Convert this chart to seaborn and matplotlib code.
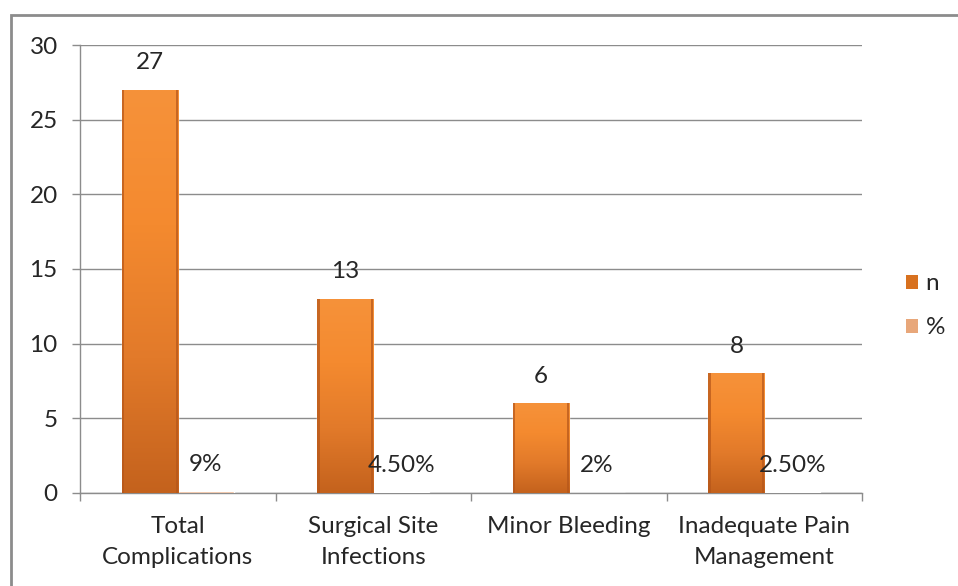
#!/usr/bin/env python3

# Complications bar chart (n and %) in the old Excel look.
import matplotlib

matplotlib.use("Agg")
import matplotlib.pyplot as plt
import numpy as np
import pandas
import seaborn as sns
from matplotlib.patches import Rectangle

categories = [
    "Total\nComplications",
    "Surgical Site\nInfections",
    "Minor Bleeding",
    "Inadequate Pain\nManagement",
]
n_values = [27, 13, 6, 8]
pct_values = [0.09, 0.045, 0.02, 0.025]
pct_labels = ["9%", "4.50%", "2%", "2.50%"]
series = ["n", "%"]
yticks = [0, 5, 10, 15, 20, 25, 30]

sns.set_style("white")
plt.rcParams["font.family"] = ["Lato", "DejaVu Sans"]
FONT = 17.5
GRAY = "#8c8c8c"
TEXT = "#262626"


def bevel_fill(ax, patch, cmap):
    """
    Paint a vertical gradient inside a bar patch, plus dark side edges.
    """
    x0, y0 = patch.get_x(), patch.get_y()
    w, h = patch.get_width(), patch.get_height()
    if h <= 0:
        return
    grad = np.linspace(0, 1, 256).reshape(-1, 1)
    im = ax.imshow(
        grad,
        extent=[x0, x0 + w, y0, y0 + h],
        aspect="auto",
        cmap=cmap,
        origin="lower",
        zorder=patch.get_zorder() + 0.1,
    )
    im.set_clip_path(patch)
    edge = w * 0.04
    for xs in (x0, x0 + w - edge):
        ax.add_patch(
            Rectangle(
                (xs, y0), edge, h, facecolor="#b5561a", edgecolor="none",
                alpha=0.7, zorder=patch.get_zorder() + 0.2,
            )
        )


def main():
    df = pandas.DataFrame(
        {
            "category": categories * 2,
            "series": ["n"] * len(categories) + ["%"] * len(categories),
            "value": n_values + pct_values,
        }
    )

    fig = plt.figure(figsize=(9.58, 5.86), dpi=100)
    ax = fig.add_axes([0.0835, 0.159, 0.8165, 0.764])

    palette = {"n": "#f08a2c", "%": "#e8a77a"}
    sns.barplot(
        data=df, x="category", y="value", hue="series", hue_order=series,
        palette=palette, width=0.573, gap=0, ax=ax, legend=False,
        saturation=1, zorder=3,
    )

    cmap = matplotlib.colors.LinearSegmentedColormap.from_list(
        "bar", ["#c4621d", "#e27a2a", "#f48a2f", "#f6923a"]
    )
    n_patches = ax.patches[: len(categories)]
    pct_patches = ax.patches[len(categories) : 2 * len(categories)]
    for p in n_patches:
        bevel_fill(ax, p, cmap)

    # data labels above bars
    for p, v in zip(n_patches, n_values):
        ax.annotate(
            str(v), (p.get_x() + p.get_width() / 2, p.get_height()),
            xytext=(0, 19.5), textcoords="offset points", ha="center", va="center",
            fontsize=FONT, color=TEXT, zorder=5,
        )
    for p, lab in zip(pct_patches, pct_labels):
        ax.annotate(
            lab, (p.get_x() + p.get_width() / 2, p.get_height()),
            xytext=(0, 19.5), textcoords="offset points", ha="center", va="center",
            fontsize=FONT, color=TEXT, zorder=5,
        )

    ax.set_ylim(0, 30)
    ax.set_xlim(-0.5, len(categories) - 0.5)
    ax.set_yticks(yticks)
    ax.set_yticklabels([str(t) for t in yticks], fontsize=FONT, color=TEXT)
    ax.yaxis.grid(True, color=GRAY, linewidth=1, zorder=0)
    ax.set_axisbelow(True)
    ax.set_xlabel("")
    ax.set_ylabel("")
    ax.set_xticks(range(len(categories)))
    ax.set_xticklabels(categories, fontsize=FONT, color=TEXT, linespacing=1.55)
    ax.tick_params(axis="x", length=0, pad=17)
    ax.tick_params(axis="y", length=6, color=GRAY, width=1, pad=10, left=True)

    # category boundary ticks below x axis
    ax.set_xticks(np.arange(-0.5, len(categories)), minor=True)
    ax.tick_params(axis="x", which="minor", length=6, color=GRAY, width=1, bottom=True)

    for side in ("top", "right"):
        ax.spines[side].set_visible(False)
    for side in ("left", "bottom"):
        ax.spines[side].set_color(GRAY)
        ax.spines[side].set_linewidth(1)

    # legend
    handles = [
        Rectangle((0, 0), 1, 1, facecolor="#d8711f", edgecolor="none"),
        Rectangle((0, 0), 1, 1, facecolor="#e8a77a", edgecolor="none"),
    ]
    fig.legend(
        handles, series, loc="center left", bbox_to_anchor=(0.923, 0.478),
        frameon=False, fontsize=FONT, handlelength=0.5, handleheight=0.5,
        handletextpad=0.3, labelspacing=0.95,
    )

    # outer chart border
    fig.add_artist(
        Rectangle(
            (11 / 958, -0.05), 1.1, 1 - 15 / 586 + 0.05, transform=fig.transFigure,
            facecolor="none", edgecolor=GRAY, linewidth=2,
        )
    )

    fig.savefig("out.png", dpi=100)
    plt.close(fig)


if __name__ == "__main__":
    main()
